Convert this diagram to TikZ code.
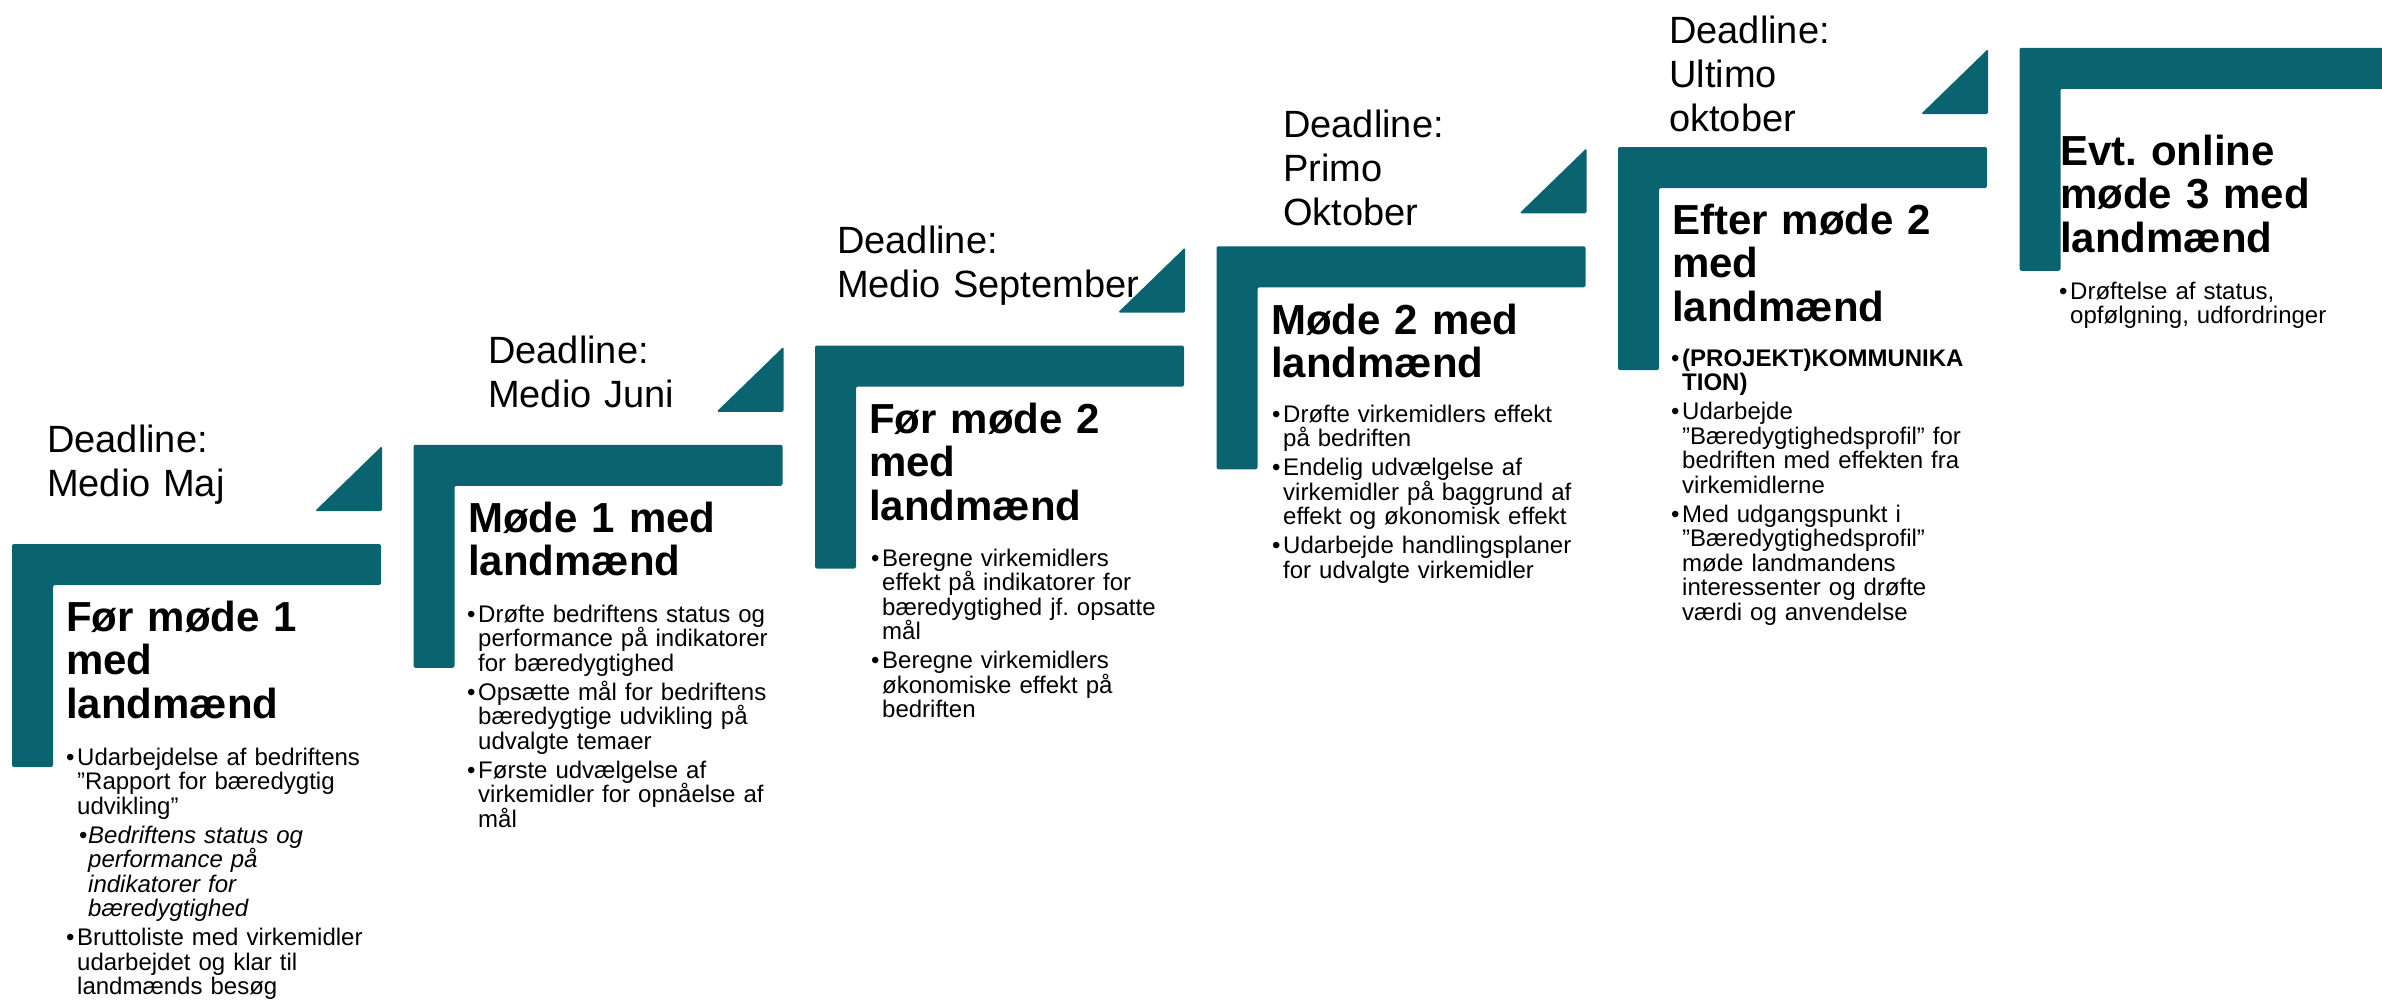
\documentclass[tikz,border=0pt]{standalone}
\usepackage{fontspec}
\setmainfont{Liberation Sans}
\usepackage{xcolor}
\usepackage{tikz}

\definecolor{stepteal}{RGB}{10,100,112}
\frenchspacing

% bullet paragraphs with hanging indent
\newcommand{\bul}[1]{\setlength{\parskip}{4.5pt}\noindent\hangindent=11pt\hangafter=1\makebox[11pt][l]{\textbullet}#1\par}
\newcommand{\subbul}[1]{\setlength{\parskip}{4.5pt}\noindent\hangindent=22pt\hangafter=1\hspace*{13pt}\makebox[9pt][l]{\textbullet}{\itshape #1}\par}

\tikzset{
	deadline/.style={anchor=base west, inner sep=0pt, text width=420pt, align=left, font=\fontsize{38}{44}\selectfont},
	steptitle/.style={anchor=base west, inner sep=0pt, text width=340pt, align=left, font=\fontsize{42}{43.5}\selectfont\bfseries},
	stepbullets/.style={anchor=base west, inner sep=0pt, text width=330pt, align=left, font=\fontsize{24}{24.5}\selectfont},
}

\begin{document}
\begin{tikzpicture}[x=1pt, y=-1pt]
			\clip (0,0) rectangle (2382,1001);
			% steps
			\foreach \i in {0,...,5} {
				\pgfmathsetmacro\xo{12+401.5*\i}
				\pgfmathsetmacro\yo{544-99.25*\i}
				\fill[stepteal, rounded corners=2pt] (\xo,\yo) -- ++(369,0) -- ++(0,41) -- ++(-328,0) -- ++(0,182) -- ++(-41,0) -- cycle;
			}
			\foreach \i in {0,...,4} {
				\pgfmathsetmacro\xo{12+401.5*\i}
				\pgfmathsetmacro\yo{544-99.25*\i}
				\fill[stepteal, rounded corners=1.5pt] (\xo+303,\yo-33) -- (\xo+370,\yo-98) -- (\xo+370,\yo-33) -- cycle;
			}
			% deadlines
			\node[deadline] (dl1) at (47,452) {Deadline:\\Medio Maj};
			\node[deadline] (dl2) at (488,363) {Deadline:\\Medio Juni};
			\node[deadline] (dl3) at (837,253) {Deadline:\\Medio September};
			\node[deadline] (dl4) at (1283,137) {Deadline:\\Primo\\Oktober};
			\node[deadline] (dl5) at (1669,43) {Deadline:\\Ultimo\\oktober};
			% titles
			\node[steptitle] (t1) at (66,631) {Før møde 1\\med\\landmænd};
			\node[steptitle] (t2) at (468,532) {Møde 1 med\\landmænd};
			\node[steptitle] (t3) at (869,433) {Før møde 2\\med\\landmænd};
			\node[steptitle] (t4) at (1271,334) {Møde 2 med\\landmænd};
			\node[steptitle] (t5) at (1672,234) {Efter møde 2\\med\\landmænd};
			\node[steptitle] (t6) at (2060,165) {Evt. online\\møde 3 med\\landmænd};
			% bullets
			\node[stepbullets] (b1) at (66,765) {%
				\bul{Udarbejdelse af bedriftens\newline ”Rapport for bæredygtig\newline udvikling”}%
				\subbul{Bedriftens status og\newline performance på\newline indikatorer for\newline bæredygtighed}%
				\bul{Bruttoliste med virkemidler\newline udarbejdet og klar til\newline landmænds besøg}};
			\node[stepbullets] (b2) at (467,622) {%
				\bul{Drøfte bedriftens status og\newline performance på indikatorer\newline for bæredygtighed}%
				\bul{Opsætte mål for bedriftens\newline bæredygtige udvikling på\newline udvalgte temaer}%
				\bul{Første udvælgelse af\newline virkemidler for opnåelse af\newline mål}};
			\node[stepbullets] (b3) at (871,566) {%
				\bul{Beregne virkemidlers\newline effekt på indikatorer for\newline bæredygtighed jf. opsatte\newline mål}%
				\bul{Beregne virkemidlers\newline økonomiske effekt på\newline bedriften}};
			\node[stepbullets] (b4) at (1272,422) {%
				\bul{Drøfte virkemidlers effekt\newline på bedriften}%
				\bul{Endelig udvælgelse af\newline virkemidler på baggrund af\newline effekt og økonomisk effekt}%
				\bul{Udarbejde handlingsplaner\newline for udvalgte virkemidler}};
			\node[stepbullets] (b5) at (1671,366) {%
				\bul{\textbf{(PROJEKT)KOMMUNIKA\newline TION)}}%
				\bul{Udarbejde\newline ”Bæredygtighedsprofil” for\newline bedriften med effekten fra\newline virkemidlerne}%
				\bul{Med udgangspunkt i\newline ”Bæredygtighedsprofil”\newline møde landmandens\newline interessenter og drøfte\newline værdi og anvendelse}};
			\node[stepbullets] (b6) at (2059,299) {%
				\bul{Drøftelse af status,\newline opfølgning, udfordringer}};
\end{tikzpicture}
\end{document}
